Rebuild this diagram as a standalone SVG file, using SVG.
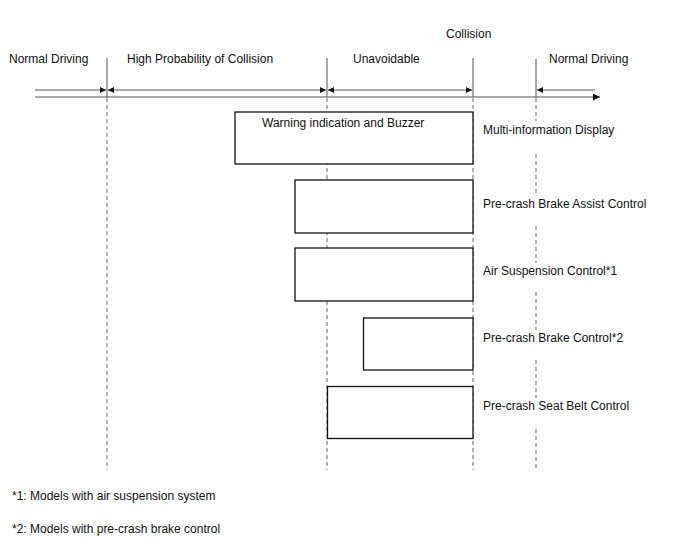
<svg xmlns="http://www.w3.org/2000/svg" width="688" height="560" viewBox="0 0 688 560">
<style>
text{font-family:"Liberation Sans",Arial,sans-serif;font-size:12px;fill:#111}
.box{fill:#fff;stroke:#111;stroke-width:1.3}
.solid{stroke:#555;stroke-width:1;fill:none}
.dash{stroke:#666;stroke-width:1;stroke-dasharray:4 3;fill:none}
.ar{stroke:#555;stroke-width:1;fill:none}
</style>
<defs>
<marker id="ah" viewBox="0 0 10 10" refX="10" refY="5" markerWidth="7" markerHeight="6" markerUnits="userSpaceOnUse" orient="auto-start-reverse">
<path d="M0,0 L10,5 L0,10 z" fill="#111"/>
</marker>
<marker id="axh" viewBox="0 0 10 10" refX="10" refY="5" markerWidth="10" markerHeight="7" markerUnits="userSpaceOnUse" orient="auto">
<path d="M0,0 L10,5 L0,10 z" fill="#111"/>
</marker>
</defs>
<g id="timeline">
<line class="solid" x1="107" y1="58" x2="107" y2="97"/>
<line class="solid" x1="327" y1="58" x2="327" y2="97"/>
<line class="solid" x1="473" y1="58" x2="473" y2="97"/>
<line class="solid" x1="536" y1="59" x2="536" y2="97"/>
<line class="dash" x1="107" y1="98" x2="107" y2="470"/>
<line class="dash" x1="327" y1="98" x2="327" y2="470"/>
<line class="dash" x1="473" y1="98" x2="473" y2="470"/>
<path class="dash" d="M536,98 V121 M536,154 V195 M536,226 V263 M536,292 V330 M536,360 V398 M536,429 V470"/>
<line class="ar" x1="35" y1="97" x2="600" y2="97" marker-end="url(#axh)"/>
</g>
<g id="connectors">
<line class="ar" x1="35" y1="90" x2="106" y2="90" marker-end="url(#ah)"/>
<line class="ar" x1="108" y1="90" x2="326" y2="90" marker-start="url(#ah)" marker-end="url(#ah)"/>
<line class="ar" x1="328" y1="90" x2="472" y2="90" marker-start="url(#ah)" marker-end="url(#ah)"/>
<line class="ar" x1="595" y1="90" x2="537" y2="90" marker-end="url(#ah)"/>
</g>
<g id="phase-labels">
<text x="9" y="63">Normal Driving</text>
<text x="127" y="63">High Probability of Collision</text>
<text x="353" y="63">Unavoidable</text>
<text x="446" y="38">Collision</text>
<text x="549" y="63">Normal Driving</text>
</g>
<g id="node-mid">
<rect class="box" x="235" y="112" width="238" height="52"/>
<text x="262" y="127">Warning indication and Buzzer</text>
<text x="483" y="134">Multi-information Display</text>
</g>
<g id="node-brake-assist">
<rect class="box" x="295" y="180" width="178" height="53"/>
<text x="483" y="208">Pre-crash Brake Assist Control</text>
</g>
<g id="node-air-suspension">
<rect class="box" x="295" y="248" width="178" height="53"/>
<text x="483" y="275">Air Suspension Control*1</text>
</g>
<g id="node-brake-control">
<rect class="box" x="363.5" y="318" width="109.5" height="52"/>
<text x="483" y="342">Pre-crash Brake Control*2</text>
</g>
<g id="node-seat-belt">
<rect class="box" x="327.5" y="386.5" width="145.5" height="52"/>
<text x="483" y="410">Pre-crash Seat Belt Control</text>
</g>
<g id="footnotes">
<text x="12" y="500">*1: Models with air suspension system</text>
<text x="12" y="533">*2: Models with pre-crash brake control</text>
</g>
</svg>
